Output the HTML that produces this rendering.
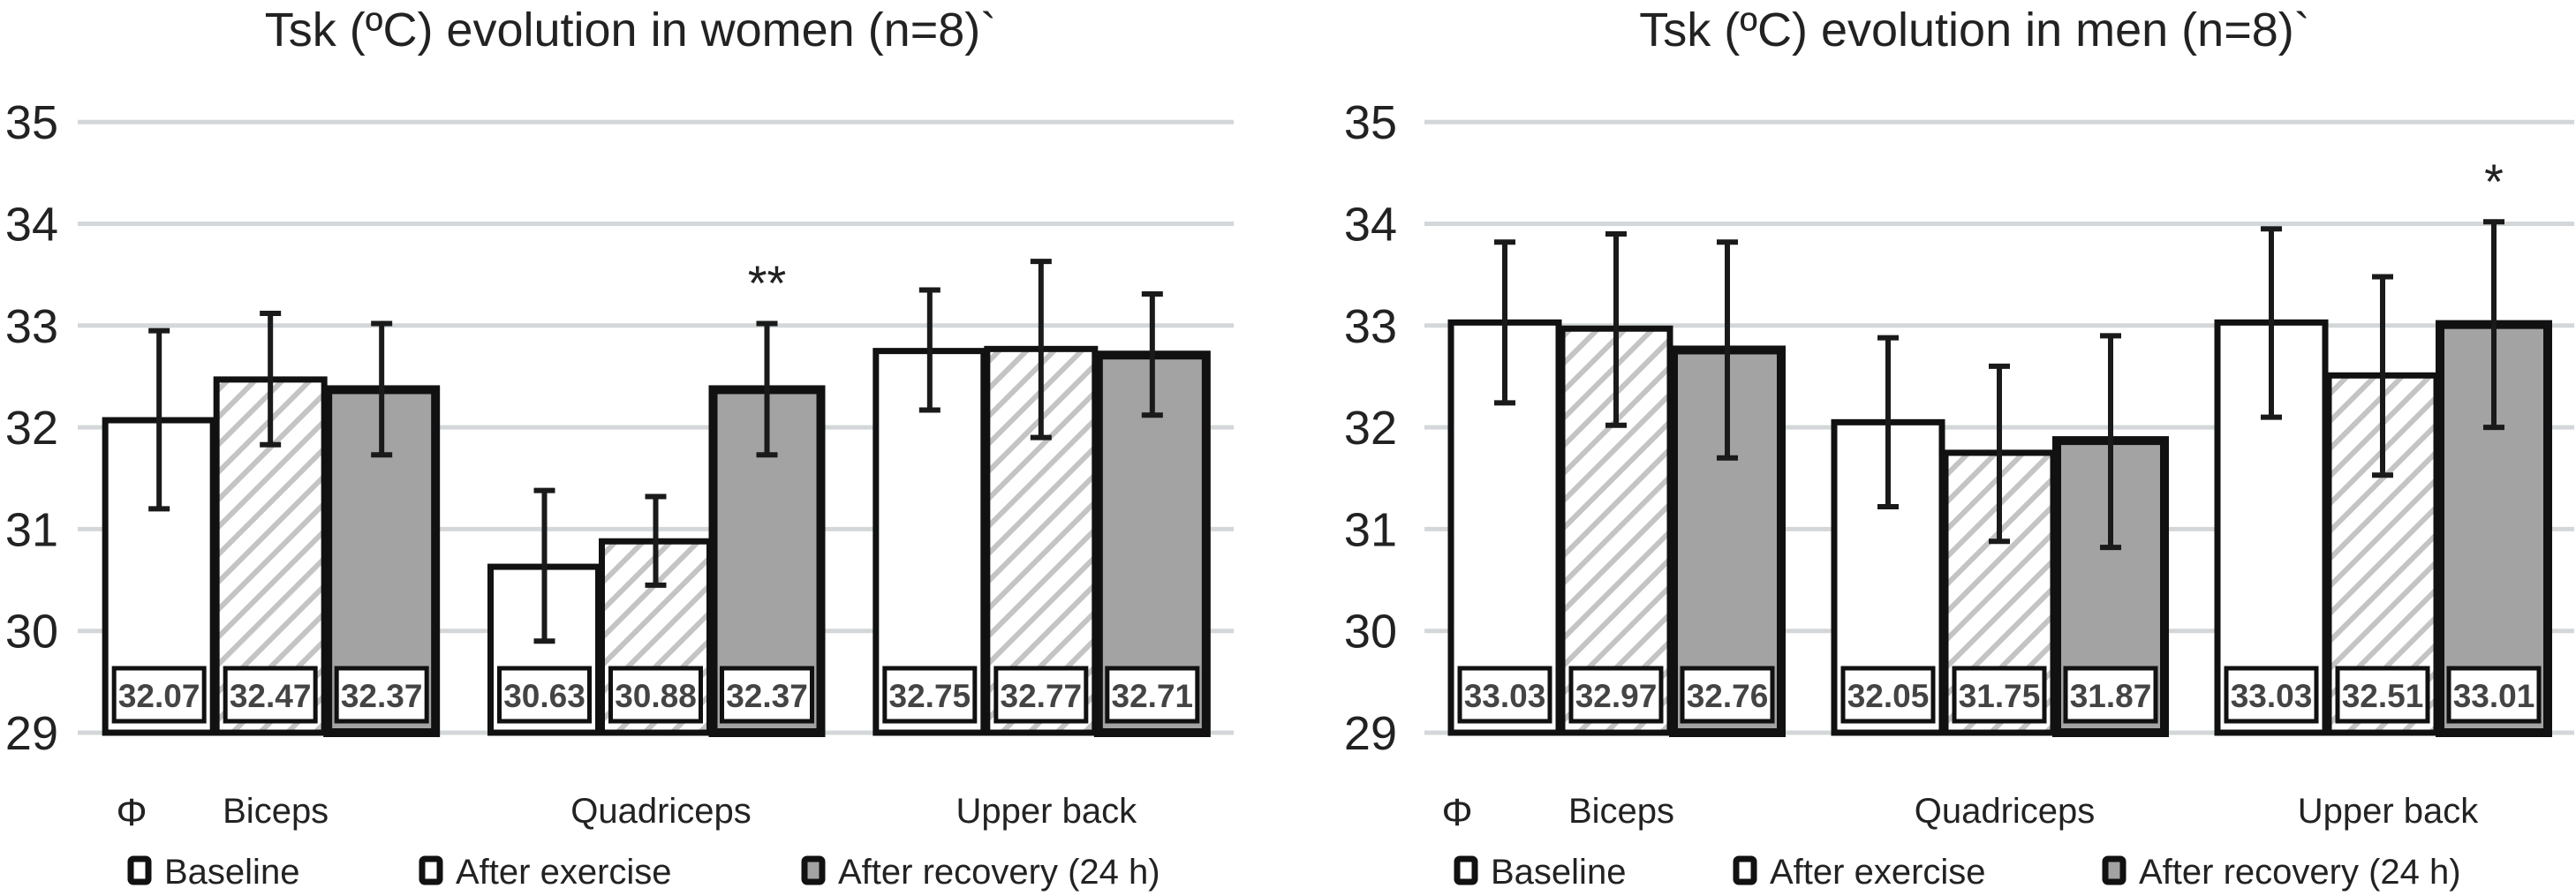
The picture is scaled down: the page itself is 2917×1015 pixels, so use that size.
<!DOCTYPE html>
<html><head><meta charset="utf-8"><style>
html,body{margin:0;padding:0;background:#fff;}
svg{display:block;font-family:"Liberation Sans",sans-serif;}
</style></head><body>
<svg id="chart" width="2917" height="1015" viewBox="0 0 2917 1015" xmlns="http://www.w3.org/2000/svg">
<defs>
<pattern id="hatch" patternUnits="userSpaceOnUse" width="22" height="22" patternTransform="rotate(45)">
<rect width="22" height="22" fill="#fff"/>
<rect x="0" y="0" width="6" height="22" fill="#c4c4c4"/>
</pattern>
</defs>
<text x="714" y="52" font-size="54" text-anchor="middle" fill="#222">Tsk (ºC) evolution in women (n=8)`</text>
<text x="2236" y="52" font-size="54" text-anchor="middle" fill="#222">Tsk (ºC) evolution in men (n=8)`</text>
<g id="plots"></g>
</svg>
<script>
const categories = ["Biceps", "Quadriceps", "Upper back"];
const seriesNames = ["Baseline", "After exercise", "After recovery (24 h)"];
const yTicks = [29, 30, 31, 32, 33, 34, 35];
const womenValues = [[32.07, 30.63, 32.75], [32.47, 30.88, 32.77], [32.37, 32.37, 32.71]];
const womenUpper = [[32.95, 31.38, 33.35], [33.12, 31.32, 33.63], [33.02, 33.02, 33.31]];
const womenLower = [[31.2, 29.9, 32.17], [31.83, 30.45, 31.9], [31.73, 31.73, 32.12]];
const womenLabels = [["32.07", "30.63", "32.75"], ["32.47", "30.88", "32.77"], ["32.37", "32.37", "32.71"]];
const menValues = [[33.03, 32.05, 33.03], [32.97, 31.75, 32.51], [32.76, 31.87, 33.01]];
const menUpper = [[33.82, 32.88, 33.95], [33.9, 32.6, 33.48], [33.82, 32.9, 34.02]];
const menLower = [[32.24, 31.22, 32.1], [32.02, 30.88, 31.53], [31.7, 30.82, 32.0]];
const menLabels = [["33.03", "32.05", "33.03"], ["32.97", "31.75", "32.51"], ["32.76", "31.87", "33.01"]];

const NS = "http://www.w3.org/2000/svg";
const root = document.getElementById("plots");
function mk(tag, attrs, parent) {
  const e = document.createElementNS(NS, tag);
  for (const k in attrs) e.setAttribute(k, attrs[k]);
  (parent || root).appendChild(e);
  return e;
}
function y(v) { return 830 - (v - 29) * 115.3; }
const fills = ["#fff", "url(#hatch)", "#a3a3a3"];
const strokeW = [7, 7, 10];

function drawPanel(prefix, x0, x1, tickRight, vals, ups, lows, labels, star, phiX, legendX) {
  const g = mk("g", {});
  
  
  const gw = (x1 - x0) / categories.length;
  yTicks.forEach(t => {
    const l = mk("line", {x1: x0, x2: x1, y1: y(t), y2: y(t), stroke: "#d3d7d9", "stroke-width": 5}, g);
    
    
    const tx = mk("text", {x: tickRight, y: y(t) + 19, "font-size": 54, "text-anchor": "end", fill: "#222"}, g);
    
    
    tx.textContent = t;
  });
  const bw = 122, step = 126;
  categories.forEach((c, ci) => {
    const cx = x0 + gw * (ci + 0.5);
    seriesNames.forEach((s, si) => {
      const bx = cx + (si - 1) * step - bw / 2;
      const top = y(vals[si][ci]);
      const r = mk("rect", {x: bx, y: top, width: bw, height: 830 - top, fill: fills[si], stroke: "#111", "stroke-width": strokeW[si]}, g);
      
      
      const lb = mk("rect", {x: bx + 10, y: 757, width: bw - 20, height: 60, fill: "#fff", stroke: "#111", "stroke-width": 5}, g);
      
      
      const lt = mk("text", {x: bx + bw / 2, y: 801, "font-size": 37, "font-weight": "bold", "text-anchor": "middle", fill: "#444"}, g);
      
      
      lt.textContent = labels[si][ci];
      const ex = bx + bw / 2;
      const eb = mk("path", {d: `M${ex},${y(ups[si][ci])}V${y(lows[si][ci])}M${ex-12},${y(ups[si][ci])}H${ex+12}M${ex-12},${y(lows[si][ci])}H${ex+12}`, stroke: "#1a1a1a", "stroke-width": 6, fill: "none"}, g);
      
      
    });
    const cl = mk("text", {x: cx + 6, y: 932, "font-size": 40, "text-anchor": "middle", fill: "#222"}, g);
    
    
    cl.textContent = c;
  });
  const st = mk("text", {x: x0 + gw * (star.ci + 0.5) + step, y: star.y, "font-size": 56, "text-anchor": "middle", fill: "#222"}, g);
  
  
  st.textContent = star.t;
  const ph = mk("text", {x: phiX, y: 935, "font-size": 44, "text-anchor": "middle", fill: "#222"}, g);
  
  
  ph.textContent = "Φ";
  seriesNames.forEach((s, si) => {
    const lx = legendX[si];
    const sq = mk("rect", {x: lx + 4, y: 973, width: 20, height: 26, rx: 3, fill: si === 2 ? "#a3a3a3" : "#fff", stroke: "#111", "stroke-width": 7}, g);
    
    
    const lt = mk("text", {x: lx + 42, y: 1001, "font-size": 40, fill: "#222"}, g);
    
    
    lt.textContent = s;
  });
}
drawPanel("women", 88, 1397, 66, womenValues, womenUpper, womenLower, womenLabels, {ci: 1, t: "**", y: 340}, 149, [144, 474, 907]);
drawPanel("men", 1613, 2915, 1582, menValues, menUpper, menLower, menLabels, {ci: 2, t: "*", y: 225}, 1650, [1646, 1962, 2380]);
</script>
</body></html>
